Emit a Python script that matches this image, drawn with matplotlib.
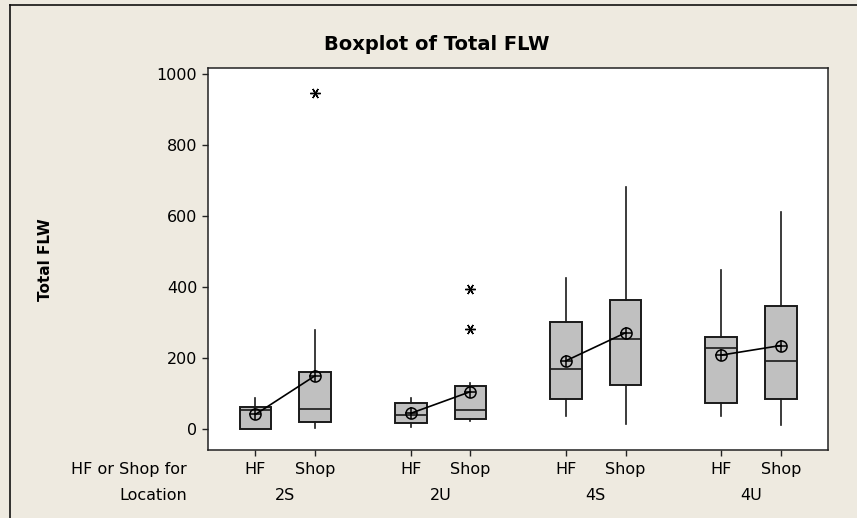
import matplotlib
matplotlib.use("Agg")
import matplotlib.pyplot as plt
from matplotlib.lines import Line2D

# values
locations = ["2S", "2U", "4S", "4U"]
kinds = ["HF", "Shop"]
q1 = [0, 21, 19, 29, 85, 125, 75, 85]
med = [54, 56, 40, 54, 169, 253, 230, 192]
q3 = [64, 162, 75, 123, 301, 363, 261, 347]
whislo = [0, 3, 7, 23, 37, 14, 37, 12]
whishi = [89, 280, 89, 130, 425, 682, 449, 613]
means = [42, 151, 45, 106, 193, 272, 209, 236]
fliers = [[], [946], [], [394, 282], [], [], [], []]

bg = "#EEEAE0"
fs = 11.5

fig = plt.figure(figsize=(8.57, 5.18), dpi=100, facecolor=bg)
ax = fig.add_axes([208.3 / 857, 1 - 450 / 518, (827.7 - 208.3) / 857, (450 - 68.3) / 518])
ax.set_facecolor("white")

pos = []
for g in range(len(locations)):
    for i in range(len(kinds)):
        pos.append(g * 2.6 + i)

stats = []
for k in range(len(pos)):
    stats.append(dict(q1=q1[k], med=med[k], q3=q3[k], whislo=whislo[k],
                      whishi=whishi[k], fliers=fliers[k], mean=means[k]))

ax.bxp(stats, positions=pos, widths=0.53, patch_artist=True, showcaps=False,
       showmeans=False,
       boxprops=dict(facecolor="#C0C0C0", edgecolor="#1a1a1a", linewidth=1.4),
       medianprops=dict(color="#1a1a1a", linewidth=1.2),
       whiskerprops=dict(color="#1a1a1a", linewidth=1.2),
       flierprops=dict(marker=(6, 2, 90), markersize=7.5, markeredgecolor="black",
                       markeredgewidth=1.0, linestyle="none"))

# mean symbols, joined within each location
for g in range(len(locations)):
    xs = pos[2 * g:2 * g + 2]
    ys = means[2 * g:2 * g + 2]
    ax.plot(xs, ys, color="black", lw=1.2, zorder=4)
    ax.plot(xs, ys, "o", ms=8, mfc="none", mec="black", mew=1.1, zorder=5)
    ax.plot(xs, ys, "+", ms=8, mec="black", mew=1.1, zorder=5)

ax.set_xlim(-0.79, 9.585)
ax.set_ylim(-58.3, 1016.9)
ax.set_yticks([0, 200, 400, 600, 800, 1000])
ax.set_xticks(pos)
ax.set_xticklabels([])
ax.tick_params(axis="y", length=4.5, width=1.0, pad=3.5, labelsize=fs, color="#222222")
ax.tick_params(axis="x", length=4.5, width=1.0, color="#222222")
for s in ax.spines.values():
    s.set_linewidth(1.1)
    s.set_color("#222222")

for k, p in enumerate(pos):
    ax.annotate(kinds[k % 2], xy=(p, 0), xycoords=("data", "axes fraction"),
                xytext=(0, -17.3), textcoords="offset points",
                ha="center", va="baseline", fontsize=fs)
for g in range(len(locations)):
    mid = (pos[2 * g] + pos[2 * g + 1]) / 2
    ax.annotate(locations[g], xy=(mid, 0), xycoords=("data", "axes fraction"),
                xytext=(0, -36), textcoords="offset points",
                ha="center", va="baseline", fontsize=fs)

fig.text(187 / 857, 1 - 474 / 518, "HF or Shop for", ha="right", va="baseline", fontsize=fs)
fig.text(187 / 857, 1 - 500 / 518, "Location", ha="right", va="baseline", fontsize=fs)

fig.text(437 / 857, 1 - 50 / 518, "Boxplot of Total FLW", ha="center", va="baseline",
         fontsize=14, fontweight="bold")
fig.text(46 / 857, 1 - 260 / 518, "Total FLW", rotation=90, ha="center", va="center",
         fontsize=11, fontweight="bold")

# outer frame (only left and top edges are in view)
fig.add_artist(Line2D([9.5 / 857, 9.5 / 857], [0, 1 - 5.3 / 518], transform=fig.transFigure,
                      color="#111111", lw=1.2))
fig.add_artist(Line2D([9.5 / 857, 1], [1 - 5.3 / 518, 1 - 5.3 / 518], transform=fig.transFigure,
                      color="#111111", lw=1.2))

fig.savefig("out.png", dpi=100, facecolor=bg)
